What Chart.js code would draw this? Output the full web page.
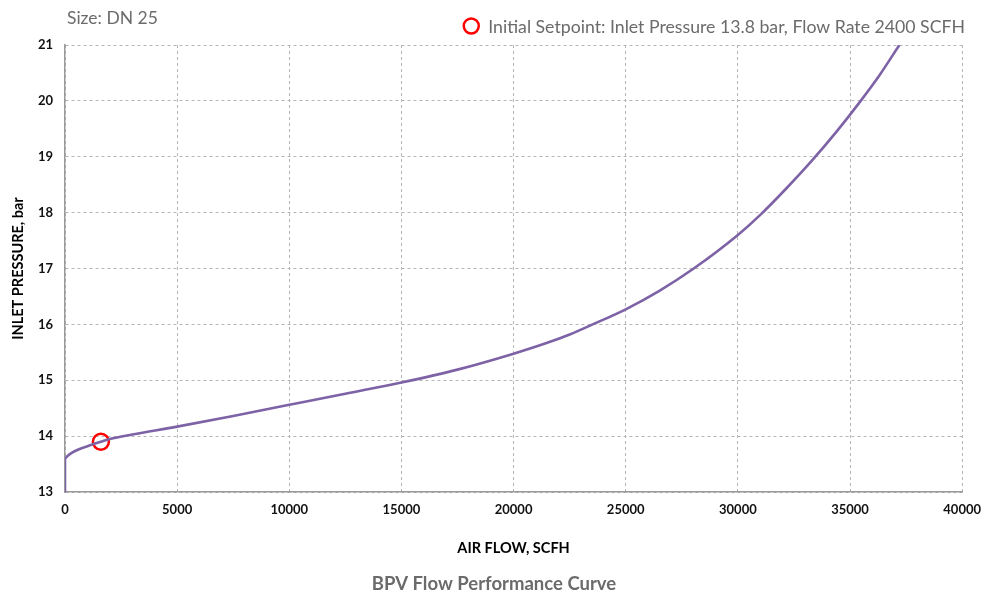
<!DOCTYPE html>
<html>
<head>
<meta charset="utf-8">
<script src="https://cdn.jsdelivr.net/npm/chart.js@4.4.0/dist/chart.umd.min.js"></script>
<style>
html,body{margin:0;padding:0;background:#fff;}
#wrap{width:991px;height:598px;position:relative;}
</style>
</head>
<body>
<div id="wrap"><canvas id="c"></canvas></div>
<script>
const flowValues = [0, 0, 100, 300, 600, 1000, 1600, 2000, 3000, 5000, 7500, 10000, 12500, 15000, 17500, 20000, 21500, 22500, 23500, 25000, 26500, 28000, 30000, 31000, 32200, 33300, 34400, 35400, 36300, 37200];
const pressureValues = [13, 13.6, 13.64, 13.7, 13.76, 13.82, 13.9, 13.95, 14.03, 14.17, 14.36, 14.56, 14.76, 14.96, 15.19, 15.475, 15.67, 15.82, 15.995, 16.27, 16.6, 16.99, 17.6, 17.96, 18.45, 18.93, 19.45, 19.96, 20.45, 21.0];
const setpointFlow = [1600];
const setpointPressure = [13.9];
const xTicks = [0, 5000, 10000, 15000, 20000, 25000, 30000, 35000, 40000];
const yTicks = [13, 14, 15, 16, 17, 18, 19, 20, 21];
const titleText = 'BPV Flow Performance Curve';
const sizeText = 'Size: DN 25';
const legendText = 'Initial Setpoint: Inlet Pressure 13.8 bar, Flow Rate 2400 SCFH';
const xTitle = 'AIR FLOW, SCFH';
const yTitle = 'INLET PRESSURE, bar';

const curve = flowValues.map((x, i) => ({x: x, y: pressureValues[i]}));
const setpoint = setpointFlow.map((x, i) => ({x: x, y: setpointPressure[i]}));

const textPlugin = {
  id: 'extraText',
  afterDraw(chart) {
    const ctx = chart.ctx;
    ctx.save();
    ctx.font = '17.5px Lato';
    ctx.fillStyle = '#6b6b6b';
    ctx.textBaseline = 'middle';
    ctx.textAlign = 'left';
    ctx.fillText(sizeText, 67, 18);
    ctx.font = '17.7px Lato';
    ctx.textAlign = 'right';
    ctx.fillText(legendText, 965, 27);
    const w = ctx.measureText(legendText).width;
    ctx.beginPath();
    ctx.strokeStyle = '#ff0000';
    ctx.lineWidth = 2.5;
    ctx.arc(965 - w - 17, 26, 7.5, 0, Math.PI * 2);
    ctx.stroke();
    ctx.font = 'bold 18.5px Lato';
    ctx.textAlign = 'center';
    ctx.fillText(titleText, 494, 584);
    ctx.restore();
  }
};

new Chart(document.getElementById('c'), {
  type: 'scatter',
  data: {
    datasets: [
      {
        data: curve,
        showLine: true,
        borderColor: '#7e62a6',
        borderWidth: 2.6,
        pointRadius: 0,
        cubicInterpolationMode: 'monotone'
      },
      {
        data: setpoint,
        showLine: false,
        pointStyle: 'circle',
        pointRadius: 8,
        borderColor: '#ff0000',
        backgroundColor: 'rgba(0,0,0,0)',
        borderWidth: 2.5
      }
    ]
  },
  options: {
    responsive: true,
    maintainAspectRatio: false,
    animation: false,
    layout: {padding: {top: 45, right: 26, left: 0, bottom: 0}},
    plugins: {
      legend: {display: false},
      tooltip: {enabled: false},
      title: {display: false}
    },
    scales: {
      x: {
        type: 'linear',
        min: 0,
        max: 40000,
        afterBuildTicks(axis) { axis.ticks = xTicks.map(v => ({value: v})); },
        afterFit(axis) { axis.height = 106; },
        ticks: {
          color: '#111',
          font: {family: 'Lato', size: 13, weight: 'bold'},
          padding: 10,
          maxRotation: 0,
          callback: v => String(v)
        },
        grid: {color: '#b5b5b5', lineWidth: 1, drawTicks: false},
        border: {display: true, color: '#9a9a9a', width: 1.5, dash: [3, 3]},
        title: {
          display: true,
          text: xTitle,
          color: '#000',
          font: {family: 'Lato', size: 14.5, weight: 'bold'},
          padding: {top: 0, bottom: 41}
        }
      },
      y: {
        type: 'linear',
        min: 13,
        max: 21,
        afterBuildTicks(axis) { axis.ticks = yTicks.map(v => ({value: v})); },
        afterFit(axis) { axis.width = 65; },
        ticks: {
          color: '#111',
          font: {family: 'Lato', size: 13, weight: 'bold'},
          padding: 12,
          callback: v => String(v)
        },
        grid: {color: '#b5b5b5', lineWidth: 1, drawTicks: false},
        border: {display: true, color: '#9a9a9a', width: 1.5, dash: [3, 3]},
        title: {
          display: true,
          text: yTitle,
          color: '#000',
          font: {family: 'Lato', size: 14.5, weight: 'bold'},
          padding: {top: 10, bottom: 4}
        }
      }
    }
  },
  plugins: [textPlugin]
});
</script>
</body>
</html>
